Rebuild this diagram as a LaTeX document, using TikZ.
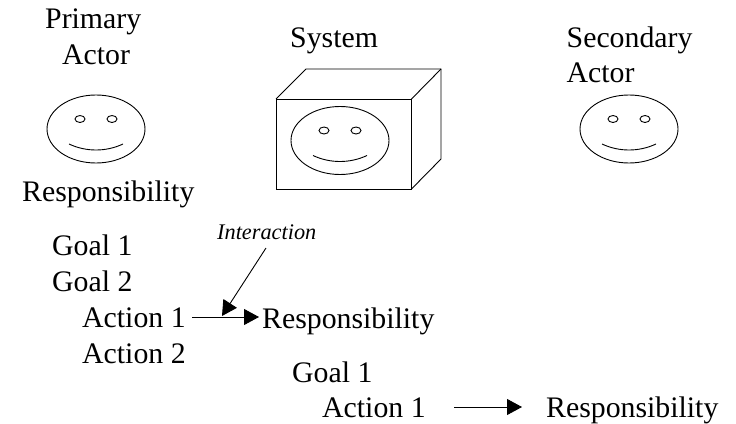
\documentclass[tikz,border=0pt]{standalone}
\usepackage{fontspec}
\setmainfont{Liberation Serif}
\usetikzlibrary{arrows.meta}
\tikzset{
 lbl/.style={inner sep=0pt,font=\fontsize{29.8}{32}\selectfont,anchor=base west},
 ital/.style={inner sep=0pt,font=\fontsize{22.3}{25}\itshape\selectfont,anchor=base west},
 ln/.style={black,line width=0.9pt},
 arr/.style={ln,-{Triangle[length=15pt,width=16pt]}},
}
\begin{document}
\begin{tikzpicture}[x=1pt,y=-1pt]
\useasboundingbox (0,0) rectangle (736,423);
\fill[white] (0,0) rectangle (736,423);
% box
\draw[ln] (276,99) rectangle (411.5,189);
\draw[ln] (276,99) -- (306,69) -- (441,69) -- (441,159) -- (411.5,189);
\draw[ln] (411.5,99) -- (441,69);
% faces
\foreach \cx/\cy in {96/129, 340/140.5, 629/129}{
 \draw[ln] (\cx,\cy) ellipse (49 and 34);
 \draw[ln] (\cx-16,\cy-10) ellipse (5 and 3.5);
 \draw[ln] (\cx+16,\cy-10) ellipse (5 and 3.5);
 \draw[ln] (\cx-27,\cy+15) .. controls (\cx-10,\cy+23) and (\cx+10,\cy+23) .. (\cx+27,\cy+15);
}
\node[lbl] (pa1) at (45,28) {Primary};
\node[lbl] (pa2) at (62,64) {Actor};
\node[lbl] (sys) at (290,47) {System};
\node[lbl] (sa1) at (566.5,47) {Secondary};
\node[lbl] (sa2) at (566.5,82.5) {Actor};
\node[lbl] (r1) at (22,201) {Responsibility};
\node[lbl] (g1) at (52,255) {Goal 1};
\node[lbl] (g2) at (52,291) {Goal 2};
\node[lbl] (a1) at (82,327) {Action 1};
\node[lbl] (a2) at (82,363) {Action 2};
\node[lbl] (r2) at (262,328) {Responsibility};
\node[lbl] (g3) at (292,382) {Goal 1};
\node[lbl] (a3) at (322,417.5) {Action 1};
\node[lbl] (r3) at (546,417.5) {Responsibility};
\node[ital] (int) at (217,239) {Interaction};
\coordinate (p1) at (192,317);
\coordinate (p2) at (259,317);
\coordinate (q1) at (266,248);
\coordinate (q2) at (222,316);
\coordinate (t1) at (454,407);
\coordinate (t2) at (522,407);
\draw[arr] (p1) -- (p2);
\draw[arr] (q1) -- (q2);
\draw[arr] (t1) -- (t2);
\end{tikzpicture}
\end{document}
